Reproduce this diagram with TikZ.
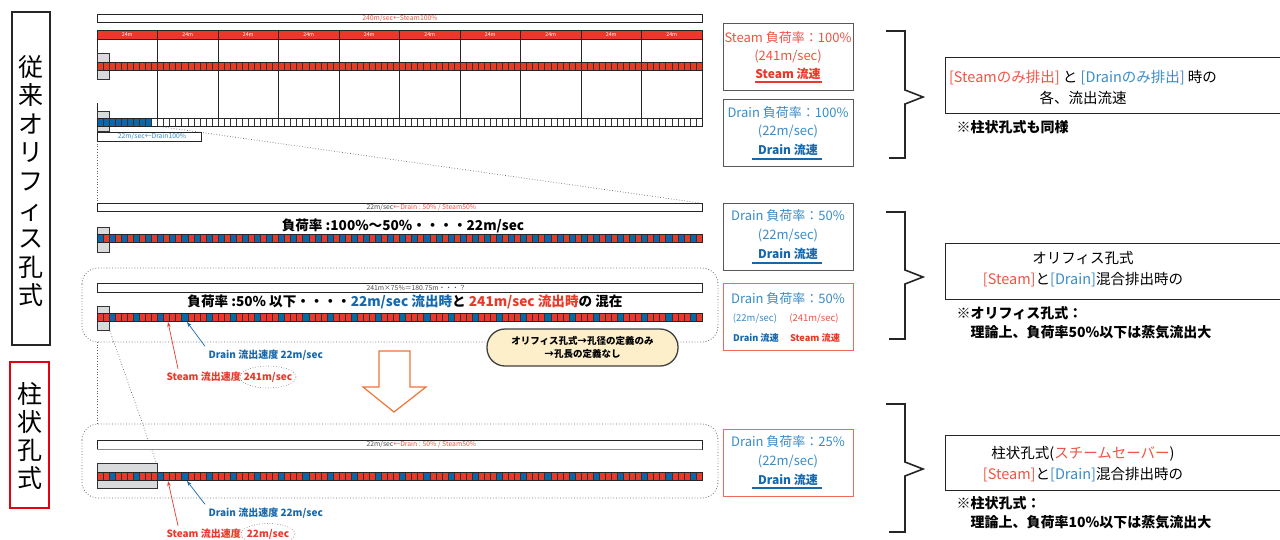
\documentclass[tikz,border=0pt]{standalone}
\usepackage{fontspec}
\setmainfont{Noto Sans CJK JP}
\usetikzlibrary{arrows.meta,shapes.geometric}
\definecolor{stred}{HTML}{E8392A}
\definecolor{drb}{HTML}{0A68AA}
\definecolor{ltred}{HTML}{EE5444}
\definecolor{ltblue}{HTML}{3A8CC8}
\definecolor{bblue}{HTML}{1668AC}
\definecolor{boxred}{HTML}{EE6A5A}
\definecolor{orng}{HTML}{F07434}
\definecolor{cream}{HTML}{FDEFC9}
\definecolor{nozgray}{HTML}{D9DADB}
\definecolor{redframe}{HTML}{E60012}
\begin{document}
\begin{tikzpicture}[x=1pt,y=-1pt,
  cell/.style={draw=black!80, line width=0.45pt},
  nozzle/.style={fill=nozgray, draw=black!80, line width=0.8pt},
  thinbar/.style={draw=black!85, line width=0.8pt, fill=white},
  guide/.style={dotted, draw=black!60, line width=0.7pt},
  frame/.style={dotted, draw=black!60, line width=0.8pt, rounded corners=16pt},
  infobox/.style={draw=black!65, line width=0.9pt, fill=white, minimum width=130pt, minimum height=67pt},
  redbox/.style={draw=boxred, line width=0.9pt, fill=white, minimum width=130pt, minimum height=67pt},
  rightbox/.style={draw=black!85, line width=0.9pt},
  brace/.style={draw=black!85, line width=1.6pt},
  tiny/.style={font=\fontsize{6.8}{7.5}\selectfont},
  lbl/.style={font=\bfseries\fontsize{10}{12}\selectfont},
  boxtxt/.style={font=\fontsize{13}{15}\selectfont},
  boxbold/.style={font=\bfseries\fontsize{12}{14}\selectfont},
  bigbold/.style={font=\bfseries\fontsize{13.6}{15}\selectfont},
  righttxt/.style={font=\fontsize{14.5}{21}\selectfont, align=center},
  note/.style={font=\bfseries\fontsize{14}{16}\selectfont, anchor=west},
  arr/.style={-{Stealth[length=5pt,width=3.5pt]}, line width=0.7pt}
]
\useasboundingbox (0,0) rectangle (1280,539);

% ---------- left labels ----------
\node[draw=black!85, line width=2pt, minimum width=38pt, minimum height=333pt] (lbox1) at (31,178.5) {};
\node[font=\fontsize{25}{28.6}\selectfont, align=center] (ltxt1) at (31,181) {従\\来\\オ\\リ\\フ\\ィ\\ス\\孔\\式};
\node[draw=redframe, line width=2.2pt, minimum width=39pt, minimum height=146pt] (lbox2) at (29.5,435) {};
\node[font=\fontsize{25}{28.3}\selectfont, align=center] (ltxt2) at (29.5,436) {柱\\状\\孔\\式};

% ---------- guide lines ----------
\draw[guide] (97,141) -- (97,203);
\draw[guide] (97,342) -- (97,424);
\draw[guide] (163,127) -- (700,203);
\draw[guide] (110,331) -- (156,462);

% ---------- top panel ----------
\draw[thinbar] (97,14) rectangle (702,22);
\node[tiny, text=ltred] (t240) at (400,18) {240m/sec←Steam100\%};
\fill[stred] (97,30) rectangle (702,39);
\draw[black!85, line width=0.8pt] (97,30) rectangle (702,39);
\foreach \k in {0,...,9}{
  \node[font=\fontsize{5.3}{6}\selectfont, text=white] (m\k) at (97+60.5*\k+30.25,34.5) {24m};
}
\foreach \k in {1,...,10}{
  \draw[black!85, line width=0.9pt] (97+60.5*\k,30) -- (97+60.5*\k,118);
}
\draw[black!85, line width=0.9pt] (97,39) -- (97,53);
\draw[black!85, line width=0.9pt] (97,103) -- (97,111);
% steam nozzle + bar
\draw[nozzle] (97,53) rectangle (109,79);
\foreach \i in {0,...,99}{
  \pgfmathsetmacro\xa{97+\i*6.05}
  \filldraw[cell, fill=stred] (\xa,62) rectangle ++(6.05,8);
}
\draw[black!85, line width=1pt] (97,62) rectangle (702,70);
% drain nozzle + bar
\draw[nozzle] (97,111) rectangle (109,131);
\foreach \i in {0,...,99}{
  \pgfmathsetmacro\xa{97+\i*6.05}
  \ifnum\i<9 \def\cc{drb}\else\def\cc{white}\fi
  \filldraw[cell, fill=\cc] (\xa,118) rectangle ++(6.05,8);
}
\draw[black!85, line width=1pt] (97,118) rectangle (702,126);
\draw[thinbar] (97,132) rectangle (201,141);
\node[tiny, text=ltblue] (t22) at (152,136.5) {22m/sec←Drain100\%};

% ---------- panel 2 ----------
\draw[thinbar] (97,203) rectangle (702,211);
\node[tiny, anchor=west] (t2) at (363,207) {\color{black!70}22m/sec\color{ltred}←Drain : 50\% / Steam50\%};
\node[bigbold] (p2txt) at (403,226) {負荷率 :100\%～50\%・・・・22m/sec};
\draw[nozzle] (97,227) rectangle (109,252);
\foreach \i in {0,...,99}{
  \pgfmathsetmacro\xa{97+\i*6.05}
  \pgfmathtruncatemacro\m{mod(\i,2)}
  \ifnum\m=0 \def\cc{drb}\else\def\cc{stred}\fi
  \filldraw[cell, fill=\cc] (\xa,234) rectangle ++(6.05,8);
}
\draw[black!85, line width=1pt] (97,234) rectangle (702,242);

% ---------- panel 3 ----------
\draw[frame] (82,268) rectangle (718,342);
\draw[thinbar] (97,283) rectangle (702,292);
\node[tiny, anchor=west, text=black!70] (t3) at (363,287.5) {241m×75\%＝180.75m・・・？};
\node[bigbold] (p3txt) at (405,302) {負荷率 :50\% 以下・・・・{\color{bblue}22m/sec 流出時}と {\color{stred}241m/sec 流出時}の 混在};
\draw[nozzle] (97,306) rectangle (109,330);
\foreach \i in {0,...,99}{
  \pgfmathsetmacro\xa{97+\i*6.05}
  \pgfmathtruncatemacro\m{mod(\i,4)}
  \ifnum\m=2 \def\cc{drb}\else\def\cc{stred}\fi
  \filldraw[cell, fill=\cc] (\xa,313) rectangle ++(6.05,8);
}
\draw[black!85, line width=1pt] (97,313) rectangle (702,321);
\node[draw=black!75, line width=1.3pt, fill=cream, rounded corners=18pt, minimum width=191pt, minimum height=37pt, align=center, font=\bfseries\fontsize{9.5}{12.5}\selectfont] (call) at (582.5,347.5) {オリフィス孔式→孔径の定義のみ\\→孔長の定義なし};

\node[lbl, text=bblue, anchor=west] (dl1) at (205,355) {Drain 流出速度 22m/sec};
\node[lbl, text=stred, anchor=west] (sl1) at (163,377) {Steam 流出速度};
\node[lbl, text=stred] (sv1) at (268,377) {241m/sec};
\draw[guide, line width=0.6pt] (sv1.center) ellipse [x radius=28pt, y radius=11pt];
\coordinate (a1) at (187,322);
\coordinate (a2) at (168,322);
\draw[arr, bblue] (dl1.north west) -- (a1);
\draw[arr, stred] ([xshift=15pt]sl1.north west) -- (a2);

% ---------- orange arrow ----------
\draw[orng, line width=1.2pt, fill=white] (379,351) -- (410,351) -- (410,387) -- (426,387) -- (394,412) -- (363,387) -- (379,387) -- cycle;

% ---------- panel 4 ----------
\draw[frame] (82,424) rectangle (718,498);
\draw[thinbar] (97,440) rectangle (702,449);
\draw[black!45, line width=1.3pt] (97,449.5) -- (702,449.5);
\node[tiny, anchor=west] (t4) at (363,444.5) {\color{black!70}22m/sec\color{ltred}←Drain : 50\% / Steam50\%};
\draw[nozzle] (97,463) rectangle (157,488);
\foreach \i in {0,...,99}{
  \pgfmathsetmacro\xa{97+\i*6.05}
  \pgfmathtruncatemacro\m{mod(\i,4)}
  \ifnum\m=2 \def\cc{drb}\else\def\cc{stred}\fi
  \filldraw[cell, fill=\cc] (\xa,472) rectangle ++(6.05,8);
}
\draw[black!85, line width=1pt] (97,472) rectangle (702,480);
\node[lbl, text=bblue, anchor=west] (dl2) at (205,513) {Drain 流出速度 22m/sec};
\node[lbl, text=stred, anchor=west] (sl2) at (163,534) {Steam 流出速度};
\node[lbl, text=stred] (sv2) at (268,534) {22m/sec};
\draw[guide, line width=0.6pt] (sv2.center) ellipse [x radius=27pt, y radius=10.5pt];
\coordinate (a3) at (187,481);
\coordinate (a4) at (168,481);
\draw[arr, bblue] (dl2.north west) -- (a3);
\draw[arr, stred] ([xshift=15pt]sl2.north west) -- (a4);

% ---------- info boxes ----------
\node[infobox] (bA) at (788,57) {};
\node[boxtxt, text=ltred] (bA1) at (788,38) {Steam 負荷率：100\%};
\node[boxtxt, text=ltred] (bA2) at (788,56) {(241m/sec)};
\node[boxbold, text=stred] (bA3) at (788,74) {Steam 流速};
\draw[stred, line width=1.2pt] (755,82) -- (822,82);

\node[infobox] (bB) at (788,132.5) {};
\node[boxtxt, text=ltblue] (bB1) at (788,113) {Drain 負荷率：100\%};
\node[boxtxt, text=ltblue] (bB2) at (788,131) {(22m/sec)};
\node[boxbold, text=bblue] (bB3) at (788,150) {Drain 流速};
\draw[bblue, line width=1.2pt] (752,159) -- (822,159);

\node[infobox] (bC) at (788,236.5) {};
\node[boxtxt, text=ltblue] (bC1) at (788,216) {Drain 負荷率：50\%};
\node[boxtxt, text=ltblue] (bC2) at (788,235) {(22m/sec)};
\node[boxbold, text=bblue] (bC3) at (788,254) {Drain 流速};
\draw[bblue, line width=1.2pt] (752,263) -- (822,263);

\node[redbox] (bD) at (788,316.5) {};
\node[boxtxt, text=ltblue] (bD1) at (788,299) {Drain 負荷率：50\%};
\node[font=\fontsize{9.5}{11}\selectfont, text=ltblue] (bD2) at (755,319) {(22m/sec)};
\node[font=\fontsize{9.5}{11}\selectfont, text=ltred] (bD3) at (814,319) {(241m/sec)};
\node[font=\bfseries\fontsize{9.2}{11}\selectfont, text=bblue] (bD4) at (756,338) {Drain 流速};
\node[font=\bfseries\fontsize{9.2}{11}\selectfont, text=stred] (bD5) at (815,338) {Steam 流速};

\node[redbox] (bE) at (788,463) {};
\node[boxtxt, text=ltblue] (bE1) at (788,442) {Drain 負荷率：25\%};
\node[boxtxt, text=ltblue] (bE2) at (788,461) {(22m/sec)};
\node[boxbold, text=bblue] (bE3) at (788,480) {Drain 流速};
\draw[bblue, line width=1.2pt] (752,488) -- (822,488);

% ---------- braces ----------
\draw[brace] (886,31) -- (905,31) -- (905,90) -- (923,97) -- (905,104) -- (905,158) -- (889,158);
\draw[brace] (886,212) -- (905,212) -- (905,270) -- (923,277) -- (905,284) -- (905,339) -- (889,339);
\draw[brace] (886,404) -- (905,404) -- (905,462) -- (923,469) -- (905,476) -- (905,532) -- (889,532);

% ---------- right boxes ----------
\draw[rightbox] (1285,57) -- (945,57) -- (945,113) -- (1285,113);
\node[righttxt] (r1) at (1083,88) {{\color{ltred}[Steamのみ排出]} と {\color{ltblue}[Drainのみ排出]} 時の\\各、流出流速};
\node[note] (n1) at (953,127) {※柱状孔式も同様};

\draw[rightbox] (1285,243) -- (945,243) -- (945,299) -- (1285,299);
\node[righttxt] (r2) at (1083,269) {オリフィス孔式\\{\color{ltred}[Steam]}と{\color{ltblue}[Drain]}混合排出時の};
\node[note] (n2) at (953,313) {※オリフィス孔式：};
\node[note] (n3) at (967,332) {理論上、負荷率50\%以下は蒸気流出大};

\draw[rightbox] (1285,435) -- (945,435) -- (945,490) -- (1285,490);
\node[righttxt] (r3) at (1083,464) {柱状孔式({\color{ltred}スチームセーバー})\\{\color{ltred}[Steam]}と{\color{ltblue}[Drain]}混合排出時の};
\node[note] (n4) at (953,503) {※柱状孔式：};
\node[note] (n5) at (967,522) {理論上、負荷率10\%以下は蒸気流出大};
\end{tikzpicture}
\end{document}
